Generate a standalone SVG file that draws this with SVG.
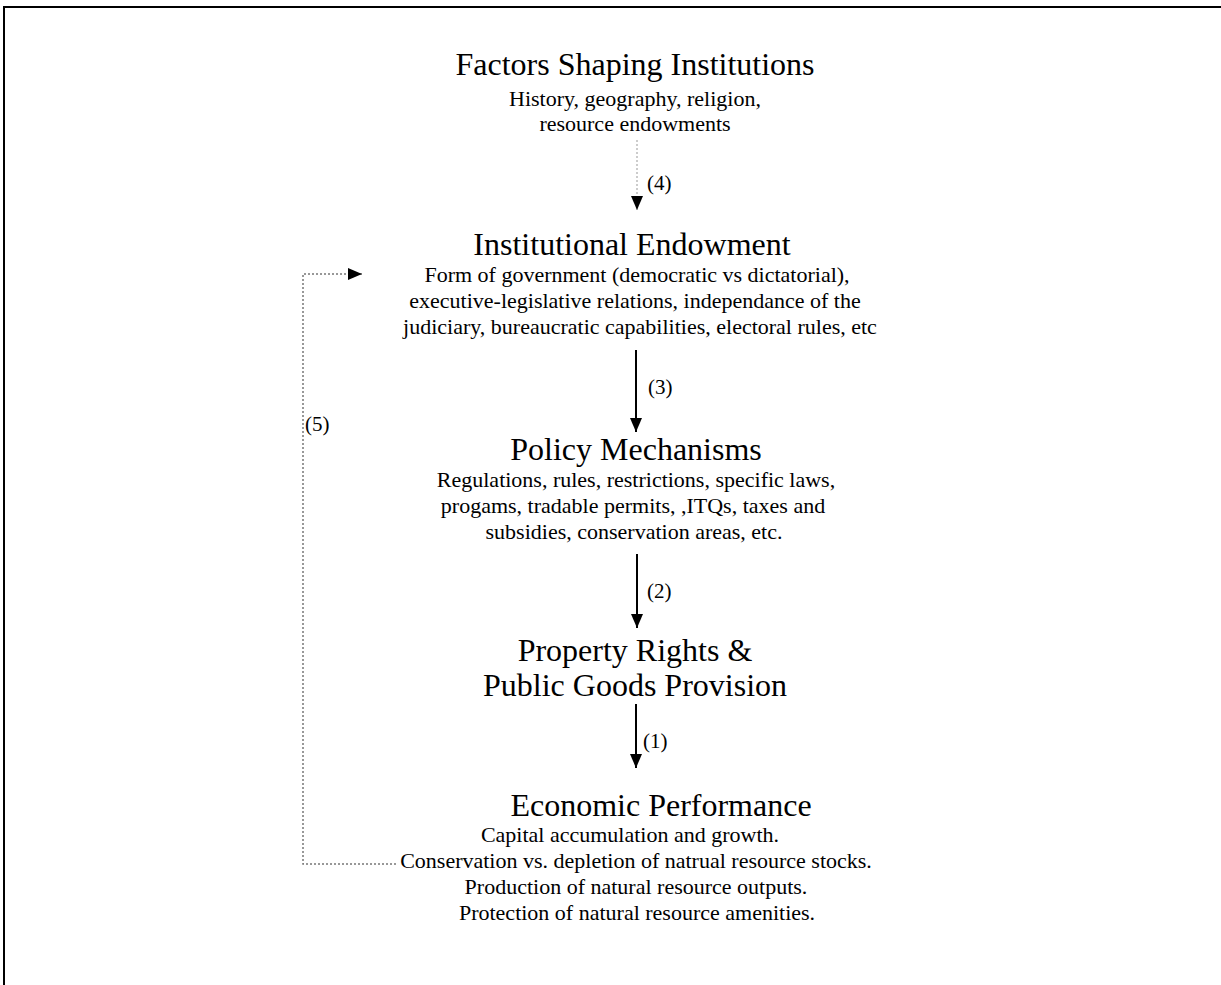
<svg xmlns="http://www.w3.org/2000/svg" width="1221" height="985" viewBox="0 0 1221 985">
<style>
text{font-family:"Liberation Serif","Times New Roman",serif;fill:#000;text-anchor:middle}
.h{font-size:32px}
.b{font-size:22px}
.l{font-size:21px;text-anchor:start}
.solid{stroke:#000;stroke-width:2;fill:none}
.dot{stroke:#777;stroke-width:1.5;fill:none;stroke-dasharray:2 2}
.dot2{stroke:#999;stroke-width:1;fill:none;stroke-dasharray:2 2}
</style>
<defs>
<marker id="ah" markerUnits="userSpaceOnUse" markerWidth="14" markerHeight="14" refX="14" refY="6" orient="auto"><path d="M0,0 L14,6 L0,12 Z" fill="#000"/></marker>
</defs>
<rect width="1221" height="985" fill="#fff"/>
<path d="M4,985 V7 H1221" stroke="#000" stroke-width="2" fill="none"/>
<g id="factors">
<text class="h" x="635" y="75">Factors Shaping Institutions</text>
<text class="b" x="635" y="106">History, geography, religion,</text>
<text class="b" x="635" y="131">resource endowments</text>
</g>
<g id="institutional">
<text class="h" x="632" y="255">Institutional Endowment</text>
<text class="b" x="637" y="282">Form of government (democratic vs dictatorial),</text>
<text class="b" x="635" y="308">executive-legislative relations, independance of the</text>
<text class="b" x="640" y="334">judiciary, bureaucratic capabilities, electoral rules, etc</text>
</g>
<g id="policy">
<text class="h" x="636" y="460">Policy Mechanisms</text>
<text class="b" x="636" y="487">Regulations, rules, restrictions, specific laws,</text>
<text class="b" x="633" y="513">progams, tradable permits, ,ITQs, taxes and</text>
<text class="b" x="634" y="539">subsidies, conservation areas, etc.</text>
</g>
<g id="property">
<text class="h" x="635" y="661">Property Rights &amp;</text>
<text class="h" x="635" y="696">Public Goods Provision</text>
</g>
<g id="economic">
<text class="h" x="661" y="816">Economic Performance</text>
<text class="b" x="630" y="842">Capital accumulation and growth.</text>
<text class="b" x="636" y="868">Conservation vs. depletion of natrual resource stocks.</text>
<text class="b" x="636" y="894">Production of natural resource outputs.</text>
<text class="b" x="637" y="920">Protection of natural resource amenities.</text>
</g>
<g id="connectors">
<line class="dot2" x1="637" y1="140" x2="637" y2="210" marker-end="url(#ah)"/>
<text class="l" x="647" y="190">(4)</text>
<line class="solid" x1="636" y1="350" x2="636" y2="432" marker-end="url(#ah)"/>
<text class="l" x="648" y="394">(3)</text>
<line class="solid" x1="637" y1="554" x2="637" y2="628" marker-end="url(#ah)"/>
<text class="l" x="647" y="598">(2)</text>
<line class="solid" x1="636" y1="704" x2="636" y2="768" marker-end="url(#ah)"/>
<text class="l" x="643" y="748">(1)</text>
<path class="dot" d="M396,864 H303 V274 H362" marker-end="url(#ah)"/>
<text class="l" x="305" y="431">(5)</text>
</g>
</svg>
